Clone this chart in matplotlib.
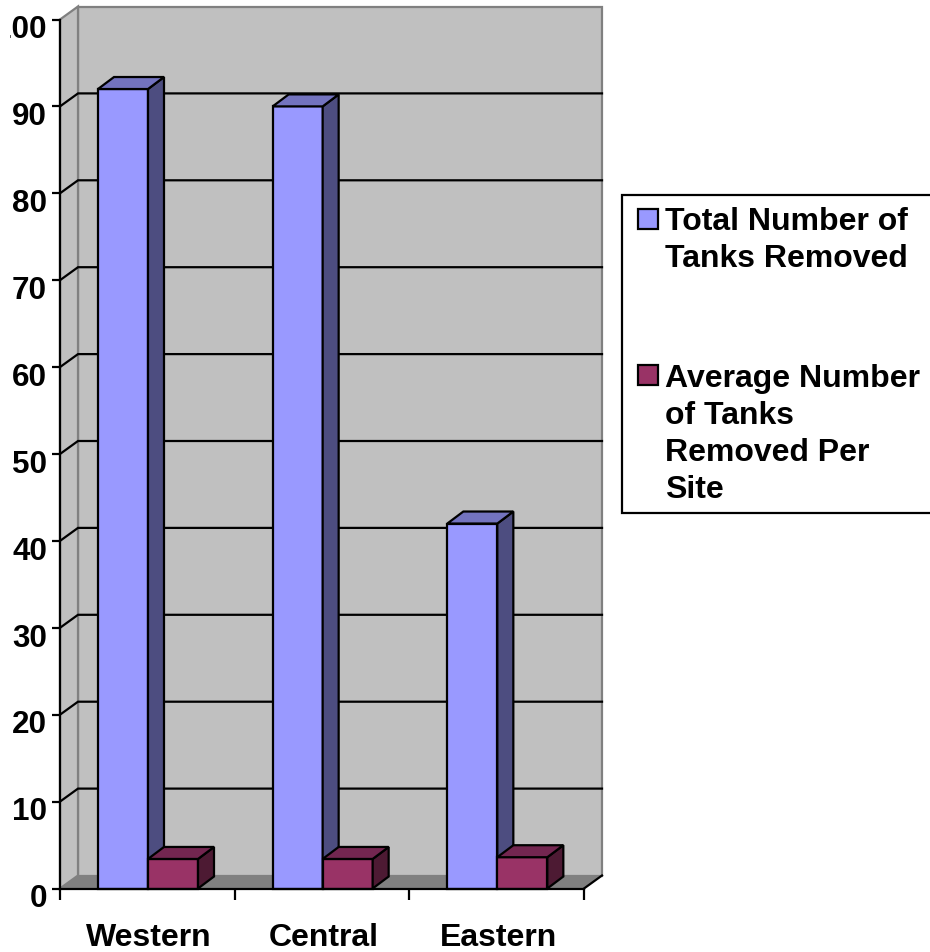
import matplotlib
matplotlib.use("Agg")
import matplotlib.pyplot as plt
from matplotlib.patches import Polygon, Rectangle
from matplotlib.transforms import Bbox, ScaledTranslation

plt.rcParams['font.family'] = ['Liberation Sans', 'DejaVu Sans']
plt.rcParams['font.weight'] = 'bold'

categories = ["Western", "Central", "Eastern"]
total_removed = [92, 90, 42]
avg_removed = [3.4, 3.4, 3.6]
y_ticks = list(range(0, 101, 10))
series_names = ["Total Number of\nTanks Removed",
                "Average Number\nof Tanks\nRemoved Per\nSite"]

# Colours of the fake 3d look (front, side, top)
total_cols = ("#9999FF", "#4D4D80", "#7373BF")
avg_cols = ("#993366", "#4D1A33", "#732650")
wall = "#C0C0C0"
floor = "#808080"

W, H = 930, 953
fig = plt.figure(figsize=(W / 100, H / 100), dpi=100)
ax = fig.add_axes([60 / W, (H - 889.5) / H, 524 / W, 869 / H])
ax.set_xlim(0, 3)
ax.set_ylim(0, 100)
ax.patch.set_visible(False)

# depth of the chart box and of the bars, in data units
px_x = 3 / 524
px_y = 100 / 869
dx, dy = 18 * px_x, 13 * px_y
bx, by = 16 * px_x, 12 * px_y
lw = 1.6


def add_poly(pts, fc, ec="black", z=1, lw=lw):
    ax.add_patch(Polygon(pts, closed=True, fc=fc, ec=ec, lw=lw, zorder=z,
                         clip_on=False, joinstyle="miter"))


# walls and floor
add_poly([(dx, dy), (3 + dx, dy), (3 + dx, 100 + dy), (dx, 100 + dy)], wall, floor, 1)
add_poly([(0, 0), (dx, dy), (dx, 100 + dy), (0, 100)], wall, floor, 1)
add_poly([(0, 0), (3, 0), (3 + dx, dy), (dx, dy)], floor, "none", 1)
ax.plot([3, 3 + dx], [0, dy], color="black", lw=lw, zorder=2, clip_on=False)

# gridlines, running along the side wall and the back wall
for t in y_ticks[1:-1]:
    ax.plot([0, dx, 3 + dx], [t, t + dy, t + dy], color="black", lw=lw, zorder=2,
            clip_on=False, solid_joinstyle="miter")


def bar3d(x, w, h, cols, z):
    ax.bar(x, h, w, align="edge", color=cols[0], edgecolor="black", linewidth=lw,
           zorder=z, clip_on=False)
    add_poly([(x + w, 0), (x + w + bx, by), (x + w + bx, h + by), (x + w, h)], cols[1], z=z)
    add_poly([(x, h), (x + w, h), (x + w + bx, h + by), (x + bx, h + by)], cols[2], z=z)


bar_w = 50 * px_x
gap = 38 * px_x
for i in range(len(categories)):
    bar3d(i + gap, bar_w, total_removed[i], total_cols, 3)
    bar3d(i + gap + bar_w, bar_w, avg_removed[i], avg_cols, 4)

# axes
for s in ("top", "right"):
    ax.spines[s].set_visible(False)
for s in ("left", "bottom"):
    ax.spines[s].set_linewidth(lw)
    ax.spines[s].set_zorder(6)

ax.set_yticks(y_ticks)
ax.set_xticks([0, 1, 2, 3])
ax.set_xticklabels([])
ax.set_xticks([0.5, 1.5, 2.5], minor=True)
ax.set_xticklabels(categories, minor=True)
ax.tick_params(axis="y", length=5.8, width=lw, pad=3.6, labelsize=22.6)
ax.tick_params(axis="x", which="major", length=8, width=lw)
ax.tick_params(axis="x", which="minor", length=0, pad=24, labelsize=23)

# y labels sit a bit below their ticks, and the "1" of 100 is cut off as in the original
offset = ScaledTranslation(0, -4.5 / 72, fig.dpi_scale_trans)
for label in ax.get_yticklabels():
    label.set_transform(label.get_transform() + offset)
    label.set_clip_on(True)
    label.set_clip_box(Bbox([[10, 0], [W, H]]))
for label in ax.get_xticklabels(minor=True):
    label.set_transform(label.get_transform() + ScaledTranslation(1 / 72, 0, fig.dpi_scale_trans))

# legend, drawn by hand since the swatch lines up with the first text line
fig.add_artist(Rectangle((622 / W, (H - 513.5) / H), 330 / W, 317.5 / H, fc="white", ec="black",
                         lw=lw, transform=fig.transFigure))
for name, col, top, sw_top in zip(series_names, (total_cols[0], avg_cols[0]),
                                  (207, 364), (210, 366)):
    fig.add_artist(Rectangle((638 / W, (H - sw_top - 20) / H), 20 / W, 20 / H, fc=col, ec="black",
                             lw=lw, transform=fig.transFigure))
    fig.text(665 / W, (H - top) / H, name, fontsize=23, fontweight="bold", va="top", ha="left",
             linespacing=1.31)

fig.savefig("out.png", dpi=100)
